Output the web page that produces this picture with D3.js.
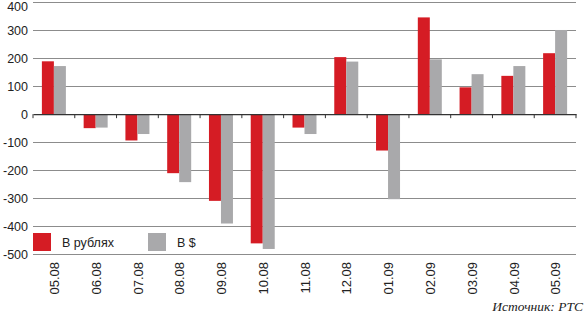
<!DOCTYPE html>
<html>
<head>
<meta charset="utf-8">
<script src="https://cdn.jsdelivr.net/npm/d3@7"></script>
<style>
  body { margin: 0; background: #fff; }
  text { font-family: "Liberation Sans", Arial, sans-serif; }
</style>
</head>
<body>
<div id="chart"></div>
<script>
// months on the x axis
var months = ["05.08", "06.08", "07.08", "08.08", "09.08", "10.08", "11.08",
              "12.08", "01.09", "02.09", "03.09", "04.09", "05.09"];

// values per month
var rubles  = [189, -50, -94, -211, -310, -462, -48, 204, -130, 346, 96, 137, 218];
var dollars = [172, -48, -71, -243, -391, -482, -71, 188, -304, 196, 143, 172, 301];

var yTicks = [400, 300, 200, 100, 0, -100, -200, -300, -400, -500];
var seriesNames = ["В рублях", "В $"];
var colors = ["#d51c24", "#a9a9ab"];

var width = 586;
var height = 314;
var margin = {left: 33, top: 2.3, right: 10, bottom: 60};

var svg = d3.select("#chart")
    .append("svg")
    .attr("width", width)
    .attr("height", height);

var x = d3.scaleBand()
    .domain(months)
    .range([margin.left, width - margin.right]);

var xInner = d3.scaleBand()
    .domain([0, 1])
    .range([0, 24]);

var y = d3.scaleLinear()
    .domain([400, -500])
    .range([margin.top, 254]);

// gridlines
svg.append("g")
    .selectAll("line")
    .data(yTicks.filter(function(d) { return d != 0; }))
    .enter()
    .append("line")
    .attr("x1", margin.left)
    .attr("x2", width - margin.right)
    .attr("y1", function(d) { return Math.round(y(d)) + 0.5; })
    .attr("y2", function(d) { return Math.round(y(d)) + 0.5; })
    .attr("stroke", "#8c8c8c")
    .attr("stroke-width", 1);

// y labels (top one nudged down so it stays inside the picture)
svg.append("g")
    .selectAll("text")
    .data(yTicks)
    .enter()
    .append("text")
    .attr("x", 28)
    .attr("y", function(d) { return Math.max(y(d), 6); })
    .attr("dy", "0.36em")
    .attr("text-anchor", "end")
    .style("font-size", "12.5px")
    .attr("fill", "#222")
    .text(function(d) { return d; });

// bars
var groups = svg.append("g")
    .selectAll("g")
    .data(months)
    .enter()
    .append("g")
    .attr("transform", function(d) {
        return "translate(" + (x(d) + x.bandwidth() / 2 - 12) + ",0)";
    });

groups.selectAll("rect")
    .data(function(d, i) { return [rubles[i], dollars[i]]; })
    .enter()
    .append("rect")
    .attr("x", function(d, j) { return xInner(j); })
    .attr("width", xInner.bandwidth())
    .attr("y", function(d) { return y(Math.max(d, 0)); })
    .attr("height", function(d) { return Math.abs(y(d) - y(0)); })
    .attr("fill", function(d, j) { return colors[j]; });

// zero axis with ticks
var xAxis = d3.axisBottom(x)
    .tickSize(0)
    .tickFormat("");
var zeroAxis = svg.append("g")
    .attr("transform", "translate(0," + y(0) + ")")
    .call(xAxis);
zeroAxis.select(".domain").attr("stroke", "#333").attr("stroke-width", 1.2);
zeroAxis.selectAll(".tick").remove();

svg.append("g")
    .selectAll("line")
    .data(months.concat(["end"]))
    .enter()
    .append("line")
    .attr("x1", function(d, i) { return margin.left + i * x.step(); })
    .attr("x2", function(d, i) { return margin.left + i * x.step(); })
    .attr("y1", y(0))
    .attr("y2", y(0) + 4)
    .attr("stroke", "#333");

// rotated month labels
svg.append("g")
    .selectAll("text")
    .data(months)
    .enter()
    .append("text")
    .attr("transform", function(d) {
        return "translate(" + (x(d) + x.bandwidth() / 2 + 0.5) + ",262) rotate(-90)";
    })
    .attr("text-anchor", "end")
    .attr("dy", "0.36em")
    .style("font-size", "13px")
    .attr("fill", "#222")
    .text(function(d) { return d; });

// legend
var legendX = [33, 148];
var legend = svg.append("g")
    .selectAll("g")
    .data(seriesNames)
    .enter()
    .append("g")
    .attr("transform", function(d, i) { return "translate(" + legendX[i] + ",233)"; });
legend.append("rect")
    .attr("width", 18)
    .attr("height", 18)
    .attr("fill", function(d, i) { return colors[i]; });
legend.append("text")
    .attr("x", 29)
    .attr("y", 9)
    .attr("dy", "0.36em")
    .style("font-size", "12.5px")
    .attr("fill", "#222")
    .text(function(d) { return d; });

// source
svg.append("text")
    .attr("x", 583)
    .attr("y", 311)
    .attr("text-anchor", "end")
    .style("font-family", "'Liberation Serif', serif")
    .style("font-style", "italic")
    .style("font-size", "13.5px")
    .attr("fill", "#222")
    .text("Источник: РТС");
</script>
</body>
</html>
